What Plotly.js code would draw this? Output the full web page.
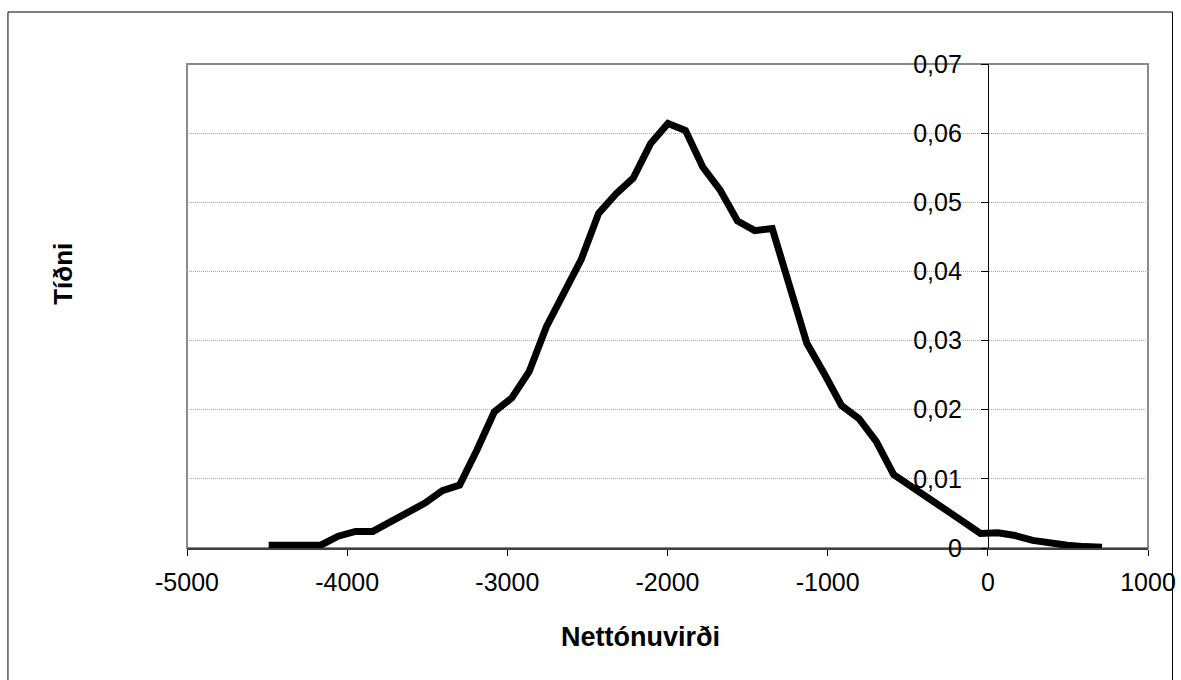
<!DOCTYPE html>
<html>
<head>
<meta charset="utf-8">
<script src="https://cdn.plot.ly/plotly-3.0.1.min.js"></script>
<style>html,body{margin:0;padding:0;background:#fff;}#chart{width:1181px;height:680px;}</style>
</head>
<body>
<div id="chart"></div>
<script>
// Net present value bins (x) and relative frequency (y)
var npvValues = [-4490,-4382,-4273,-4165,-4056,-3948,-3840,-3731,-3623,-3514,
  -3406,-3298,-3189,-3081,-2972,-2864,-2756,-2647,-2539,-2430,
  -2322,-2214,-2105,-1997,-1888,-1780,-1672,-1563,-1455,-1346,
  -1238,-1130,-1021,-913,-804,-696,-588,-479,-371,-262,
  -154,-46,63,171,280,388,496,605,713];
var frequency = [0.0004,0.0004,0.0002,0.0004,0.0017,0.0024,0.0024,0.0038,0.0049,0.0065,
  0.0083,0.0091,0.0142,0.0197,0.0217,0.0255,0.0320,0.0368,0.0417,0.0484,
  0.0512,0.0535,0.0585,0.0614,0.0604,0.0551,0.0518,0.0473,0.0459,0.0462,
  0.0378,0.0296,0.0252,0.0206,0.0187,0.0154,0.0106,0.0088,0.0072,0.0055,
  0.0038,0.0021,0.0022,0.0018,0.0011,0.0007,0.0004,0.0002,0.0001];

var xTickVals = [-5000,-4000,-3000,-2000,-1000,0,1000];
var xTickText = ['-5000','-4000','-3000','-2000','-1000','0','1000'];
var yTickVals = [0,0.01,0.02,0.03,0.04,0.05,0.06,0.07];
var yTickText = ['0','0,01','0,02','0,03','0,04','0,05','0,06','0,07'];
var xTitle = 'Nettónuvirði';
var yTitle = 'Tíðni';

var FONT = 'Liberation Sans, Arial, sans-serif';

var trace = {
  type: 'scatter', mode: 'lines',
  x: npvValues, y: frequency,
  line: {color: '#000000', width: 7},
  hoverinfo: 'skip', showlegend: false
};

var layout = {
  width: 1181, height: 680,
  margin: {l: 187, r: 33, t: 64, b: 132, pad: 0},
  paper_bgcolor: '#ffffff', plot_bgcolor: '#ffffff',
  showlegend: false,
  font: {family: FONT, color: '#000000', size: 25},
  xaxis: {
    range: [-5000, 1000], autorange: false,
    tickmode: 'array', tickvals: xTickVals, ticktext: xTickText,
    ticks: 'outside', ticklen: 6, tickwidth: 1, tickcolor: '#000',
    showline: true, linecolor: '#404040', linewidth: 2,
    showgrid: false, zeroline: false,
    tickfont: {family: FONT, size: 25, color: '#000'},
    ticklabelstandoff: 5,
    automargin: false
  },
  yaxis: {
    range: [0, 0.07], autorange: false,
    anchor: 'free', position: 5000/6000, side: 'left',
    tickmode: 'array', tickvals: yTickVals, ticktext: yTickText,
    ticks: 'outside', ticklen: 7, tickwidth: 1, tickcolor: '#000',
    showline: true, linecolor: '#000', linewidth: 1,
    showgrid: true, gridcolor: '#a5a5a5', gridwidth: 1, griddash: '1px,1px',
    zeroline: false,
    tickfont: {family: FONT, size: 25, color: '#000'},
    ticklabelstandoff: 14,
    automargin: false
  },
  shapes: [
    {type: 'rect', xref: 'paper', yref: 'paper', x0: 0, x1: 1, y0: 0, y1: 1,
     line: {color: '#8a8a8a', width: 2}, layer: 'below'},
    {type: 'rect', xref: 'paper', yref: 'paper', x0: -0.1863, x1: 1.0255, y0: -0.32, y1: 1.1074,
     line: {color: '#000', width: 1}, layer: 'below'}
  ],
  annotations: [
    {text: '<b>' + xTitle + '</b>', xref: 'paper', yref: 'paper', x: 0.4714, y: -0.184,
     xanchor: 'center', yanchor: 'middle', showarrow: false,
     font: {family: FONT, size: 27, color: '#000'}},
    {text: '<b>' + yTitle + '</b>', xref: 'paper', yref: 'paper', x: -0.1293, y: 0.566,
     xanchor: 'center', yanchor: 'middle', showarrow: false, textangle: -90,
     font: {family: FONT, size: 26, color: '#000'}}
  ]
};

Plotly.newPlot('chart', [trace], layout, {staticPlot: true, displayModeBar: false});
</script>
</body>
</html>
